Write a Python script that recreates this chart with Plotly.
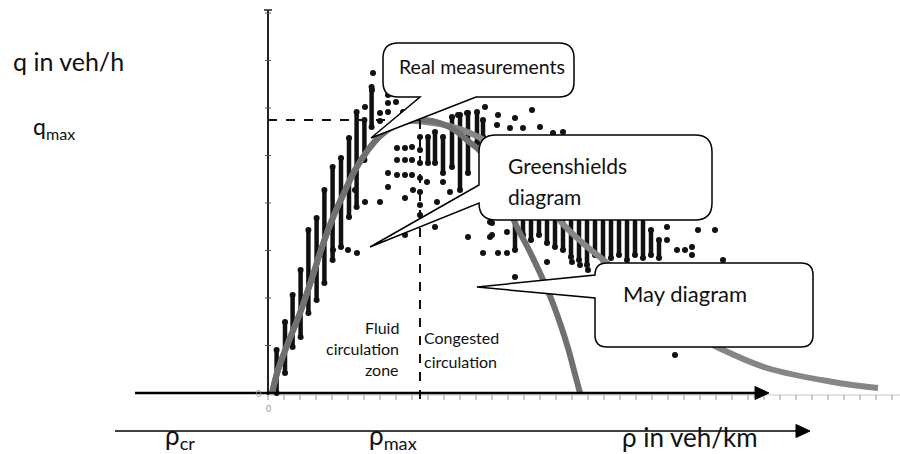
import plotly.graph_objects as go

# ---------------- data (rho in veh/km, q in veh/h, arbitrary scale) ----------------
Q_MAX = 2730
RHO_MAX = 76
RHO_JAM = 156

# dense vertical columns of measurements: density, lowest q, highest q
col_rho = [4.3, 8.5, 12.3, 16.3, 20.2, 24.3, 28.2, 32.3, 36.5, 40.5, 44.3, 48.2, 51.8,
           80, 83.5, 87.5, 92, 96, 100, 104.5, 107.5,
           123.5, 127.5, 131.5, 135.5, 139.5, 143.5, 147.5, 151.5, 155.5, 159.5, 163.5,
           167.5, 171.5, 175.5, 179.5, 183.5, 187.5, 191.5, 195.5]
col_qlo = [0, 200, 460, 560, 800, 930, 1100, 1330, 1460, 1760, 1860, 2330, 2660,
           2300, 2300, 2200, 2260, 2030, 2200, 2500, 2560,
           1430, 1580, 1530, 1580, 1500, 1460, 1430, 1360, 1330, 1280, 1380,
           1330, 1350, 1380, 1330, 1380, 1350, 1380, 1350]
col_qhi = [430, 710, 980, 1230, 1630, 1750, 2030, 2260, 2350, 2550, 2810, 2730, 3060,
           2560, 2610, 2560, 2760, 2780, 2800, 2810, 2730,
           1900, 1900, 1900, 1900, 1900, 1900, 1900, 1900, 1900, 1900, 1900,
           1900, 1900, 1900, 1900, 1900, 1900, 1630, 1530]

# isolated measurement points
pt_rho = [52.5, 52, 48.5, 56, 56, 60, 60, 64, 64, 60, 67.5,
          60, 60, 64.5, 68.5, 64.5, 68.5, 64.5, 68.5, 72, 68.5, 68.5, 43.5, 48.5, 56,
          32.5, 40, 44.5, 76,
          76, 76, 76, 76, 76, 76,
          72, 72, 72.5, 79.5, 87.5, 91, 95, 99.5, 84.5, 83.5, 100, 112, 112, 119.5,
          107.5, 115, 119.5, 139.5, 123.5, 152, 156, 160, 111, 111,
          108.5, 115, 123.5, 132, 127.5, 136, 142.5, 147.5, 114.5, 121, 95, 99.5,
          199.5, 199.5, 215, 223.5, 204.5, 208.5, 212, 212, 227.5, 203.5]
pt_q = [3200, 3030, 2860, 2800, 2720, 2980, 2900, 3000, 2910, 2810, 2810,
        2200, 2060, 2450, 2450, 2330, 2330, 2180, 2180, 2180, 1950, 1580, 2030, 1910, 1910,
        1430, 1430, 1400, 2010,
        2560, 2430, 2300, 2150, 1880, 1780,
        2330, 2460, 2030, 2110, 2110, 2010, 1930, 1930, 1910, 1660, 1560, 1580, 1700, 1610,
        1400, 1400, 1400, 1310, 1160, 1310, 1280, 1230, 1710, 1560,
        2860, 2780, 2750, 2830, 2650, 2660, 2600, 2610, 2680, 2650, 2780, 2800,
        1660, 1530, 1630, 1630, 1430, 1430, 1460, 1380, 1330, 380]

# Greenshields diagram
gs_rho = [2, 5, 10, 16, 22, 27, 33, 38, 43.5, 50, 56, 62, 70, 78, 86, 94, 100, 106,
          112, 118, 124, 130, 136, 142, 146, 150, 154, 156]
gs_q = [0, 230, 500, 800, 1150, 1460, 1780, 2000, 2230, 2430, 2570, 2660, 2720, 2730,
        2700, 2620, 2520, 2420, 2240, 1980, 1680, 1450, 1200, 920, 700, 450, 150, 0]

# May diagram
may_rho = [2, 5, 10, 16, 22, 27, 33, 38, 43.5, 50, 56, 62, 70, 78.5, 88.5, 101, 116, 131,
           147, 158.5, 169.5, 181, 191, 211, 224.5, 249.5, 282.5, 305]
may_q = [0, 230, 500, 800, 1150, 1460, 1780, 2000, 2230, 2430, 2570, 2660, 2720, 2710,
         2680, 2600, 2430, 2130, 1700, 1480, 1300, 1060, 880, 600, 460, 250, 110, 50]

# ---------------- figure ----------------
W, H = 900, 454
FONT = "Lato, 'Open Sans', sans-serif"

fig = go.Figure()

cx, cy = [], []
for r, lo, hi in zip(col_rho, col_qlo, col_qhi):
    cx += [r, r, None]
    cy += [lo, hi, None]
fig.add_trace(go.Scatter(x=cx, y=cy, mode="lines+markers",
                         line=dict(color="#111", width=4.5),
                         marker=dict(color="#111", size=6), hoverinfo="skip"))
fig.add_trace(go.Scatter(x=pt_rho, y=pt_q, mode="markers",
                         marker=dict(color="#111", size=6), hoverinfo="skip"))
fig.add_trace(go.Scatter(x=may_rho, y=may_q, mode="lines", line_shape="spline",
                         line=dict(color="#868686", width=6), hoverinfo="skip"))
fig.add_trace(go.Scatter(x=gs_rho, y=gs_q, mode="lines", line_shape="spline",
                         line=dict(color="#707070", width=6), hoverinfo="skip"))


def P(px, py):
    return px / W, 1 - py / H


def pstr(px, py):
    x, y = P(px, py)
    return f"{x:.5f},{y:.5f}"


shapes = []


def line_px(x0, y0, x1, y1, width, color="black", dash=None):
    a, b = P(x0, y0)
    c, d = P(x1, y1)
    shapes.append(dict(type="line", xref="paper", yref="paper", x0=a, y0=b, x1=c, y1=d,
                       line=dict(color=color, width=width, dash=dash), layer="above"))


def arrowhead(tipx, y, length, half):
    path = f"M {pstr(tipx, y)} L {pstr(tipx - length, y - half)} L {pstr(tipx - length, y + half)} Z"
    shapes.append(dict(type="path", xref="paper", yref="paper", path=path,
                       fillcolor="black", line=dict(color="black", width=1), layer="above"))


# faint original axis with ticks (data coords)
shapes.append(dict(type="line", xref="x", yref="y", x0=0, x1=316, y0=-20, y1=-20,
                   line=dict(color="#c8c8c8", width=1), layer="below"))
for k in range(0, 40):
    r = k * 8
    shapes.append(dict(type="line", xref="x", yref="y", x0=r, x1=r, y0=-20, y1=-70,
                       line=dict(color="#9a9a9a", width=1), layer="above"))
# y axis
shapes.append(dict(type="line", xref="x", yref="y", x0=0, x1=0, y0=-20, y1=3830,
                   line=dict(color="#222", width=2), layer="above"))
for k in range(0, 9):
    q = k * 475
    shapes.append(dict(type="line", xref="x", yref="y", x0=-1.5, x1=1.5, y0=q, y1=q,
                       line=dict(color="#555", width=1), layer="above"))
shapes.append(dict(type="line", xref="x", yref="y", x0=-2, x1=2, y0=3830, y1=3830,
                   line=dict(color="#222", width=1.5), layer="above"))

# dashed qmax / rho max guides
shapes.append(dict(type="line", xref="x", yref="y", x0=0, x1=RHO_MAX, y0=Q_MAX, y1=Q_MAX,
                   line=dict(color="#111", width=2, dash="dash"), layer="above"))
shapes.append(dict(type="line", xref="x", yref="y", x0=RHO_MAX, x1=RHO_MAX, y0=Q_MAX, y1=-100,
                   line=dict(color="#111", width=2, dash="dash"), layer="above"))

# drawn arrows
line_px(135, 393, 757, 393, 2.6)
arrowhead(769, 393, 14, 6.5)
line_px(115, 431, 797, 431, 1.6)
arrowhead(810, 431, 14, 6.5)


def callout(x0, y0, x1, y1, r, tail):
    p = [f"M {pstr(x0 + r, y0)}", f"L {pstr(x1 - r, y0)}",
         f"Q {pstr(x1, y0)} {pstr(x1, y0 + r)}", f"L {pstr(x1, y1 - r)}",
         f"Q {pstr(x1, y1)} {pstr(x1 - r, y1)}"]
    if tail[0] == "bottom":
        _, b2, b1, tip = tail
        p += [f"L {pstr(b2, y1)}", f"L {pstr(*tip)}", f"L {pstr(b1, y1)}"]
    p += [f"L {pstr(x0 + r, y1)}", f"Q {pstr(x0, y1)} {pstr(x0, y1 - r)}"]
    if tail[0] == "left":
        _, b2, b1, tip = tail
        p += [f"L {pstr(x0, b2)}", f"L {pstr(*tip)}", f"L {pstr(x0, b1)}"]
    p += [f"L {pstr(x0, y0 + r)}", f"Q {pstr(x0, y0)} {pstr(x0 + r, y0)}", "Z"]
    shapes.append(dict(type="path", xref="paper", yref="paper", path=" ".join(p),
                       fillcolor="white", line=dict(color="black", width=1.5), layer="above"))


callout(383, 43, 574, 97, 15, ("bottom", 476, 420, (371, 138)))
callout(479, 135, 712, 220, 17, ("left", 203, 185, (370, 247)))
callout(595, 263, 813, 347, 12, ("left", 298, 275, (477, 287)))

fig.update_layout(shapes=shapes)

ann = []


def text(s, px, py, size, anchor="left", color="#111"):
    x, y = P(px, py)
    ann.append(dict(text=s, x=x, y=y, xref="paper", yref="paper", showarrow=False,
                    xanchor=anchor, yanchor="middle",
                    font=dict(family=FONT, size=size, color=color)))


text("q in veh/h", 11, 61, 25)
text("q<sub>max</sub>", 31, 127, 23)
text("ρ<sub>cr</sub>", 163, 436, 26)
text("ρ<sub>max</sub>", 367, 436, 26)
text("ρ in veh/km", 620, 437, 26)
text("Fluid", 401, 327, 16, "right")
text("circulation", 401, 348, 16, "right")
text("zone", 401, 369, 16, "right")
text("Congested", 422, 337, 16)
text("circulation", 422, 361, 16)
text("Real measurements", 397, 66, 19.5)
text("Greenshields", 506, 165, 21)
text("diagram", 506, 196, 21)
text("May diagram", 621, 293, 22)
text("0", 263, 393, 9, "right", "#999")
text("0", 268, 408, 9, "center", "#999")

fig.update_layout(
    annotations=ann,
    width=W, height=H,
    margin=dict(l=0, r=0, t=0, b=0),
    paper_bgcolor="white", plot_bgcolor="white",
    showlegend=False,
    xaxis=dict(range=[-134, 316], visible=False, fixedrange=True),
    yaxis=dict(range=[-610, 3930], visible=False, fixedrange=True),
)

fig.write_html("out.html")
